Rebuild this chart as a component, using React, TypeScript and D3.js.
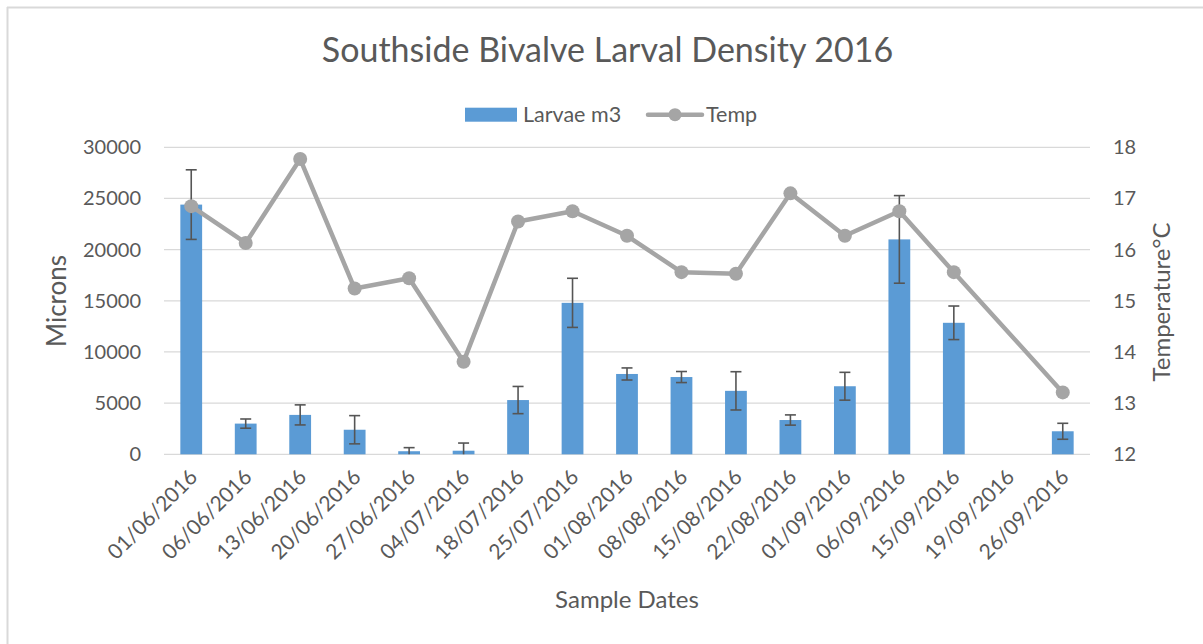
import React from "react";
import * as d3 from "d3";

const dates = [
  "01/06/2016", "06/06/2016", "13/06/2016", "20/06/2016", "27/06/2016", "04/07/2016",
  "18/07/2016", "25/07/2016", "01/08/2016", "08/08/2016", "15/08/2016", "22/08/2016",
  "01/09/2016", "06/09/2016", "15/09/2016", "19/09/2016", "26/09/2016",
];
const larvae: (number | null)[] = [
  24400, 3000, 3850, 2400, 300, 350, 5300, 14800, 7850, 7550, 6200, 3350, 6650, 21000, 12850, null, 2250,
];
const larvaeErr: (number | null)[] = [
  3400, 450, 980, 1380, 350, 750, 1330, 2400, 590, 540, 1870, 500, 1360, 4280, 1640, null, 780,
];
const temp: (number | null)[] = [
  16.85, 16.13, 17.77, 15.24, 15.44, 13.81, 16.55, 16.75, 16.27, 15.56, 15.53, 17.1, 16.27, 16.75, 15.56, null, 13.21,
];
const leftTicks = [0, 5000, 10000, 15000, 20000, 25000, 30000];
const rightTicks = [12, 13, 14, 15, 16, 17, 18];

const W = 1203;
const H = 644;
const FONT = "Lato, 'Open Sans', sans-serif";
const TXT = "#595959";
const GRID = "#d9d9d9";
const BAR = "#5b9bd5";
const LINE = "#a5a5a5";
const ERR = "#555555";

export default function App() {
  const left = 164, right = 1090, top = 147.3, bottom = 454.3;
  const band = d3.scaleBand<string>().domain(dates).range([left, right]);
  const yL = d3.scaleLinear().domain([0, 30000]).range([bottom, top]);
  const yR = d3.scaleLinear().domain([12, 18]).range([bottom, top]);
  const cx = (d: string) => (band(d) as number) + band.bandwidth() / 2;
  const bw = band.bandwidth() / 2.5;

  const pts = dates
    .map((d, i) => ({ d, v: temp[i] }))
    .filter((p) => p.v !== null) as { d: string; v: number }[];
  const lineGen = d3.line<{ d: string; v: number }>().x((p) => cx(p.d)).y((p) => yR(p.v));

  return (
    <svg width={W} height={H} style={{ position: "absolute", left: 0, top: 0, background: "#fff" }} fontFamily={FONT}>
      <rect x={0} y={0} width={W} height={H} fill="#fff" />
      <line x1={7} y1={7.5} x2={W} y2={7.5} stroke={GRID} strokeWidth={2} />
      <line x1={7.5} y1={7} x2={7.5} y2={H} stroke={GRID} strokeWidth={2} />

      <text x={607.5} y={62} textAnchor="middle" fontSize={34} fill={TXT}>
        Southside Bivalve Larval Density 2016
      </text>

      {/* legend */}
      <rect x={465} y={107.7} width={52} height={14} fill={BAR} />
      <text x={523} y={121.5} fontSize={21.5} fill={TXT}>Larvae m3</text>
      <line x1={648} y1={114.7} x2={702} y2={114.7} stroke={LINE} strokeWidth={4.5} strokeLinecap="round" />
      <circle cx={675} cy={114.7} r={6.5} fill={LINE} />
      <text x={706} y={121.5} fontSize={21.5} fill={TXT}>Temp</text>

      {/* gridlines */}
      {leftTicks.map((t) => (
        <line key={"g" + t} x1={left} x2={right} y1={yL(t)} y2={yL(t)} stroke={GRID} strokeWidth={1.3} />
      ))}

      {/* left ticks */}
      {leftTicks.map((t) => (
        <text key={"l" + t} x={141} y={yL(t)} dy="0.35em" textAnchor="end" fontSize={20} fill={TXT}>
          {t}
        </text>
      ))}
      {rightTicks.map((t) => (
        <text key={"r" + t} x={1113} y={yR(t)} dy="0.35em" textAnchor="start" fontSize={20} fill={TXT}>
          {t}
        </text>
      ))}

      {/* bars */}
      {dates.map((d, i) =>
        larvae[i] === null ? null : (
          <rect key={"b" + d} x={cx(d) - bw / 2} y={yL(larvae[i] as number)} width={bw}
            height={bottom - yL(larvae[i] as number)} fill={BAR} />
        )
      )}

      {/* error bars */}
      {dates.map((d, i) => {
        const v = larvae[i];
        const e = larvaeErr[i];
        if (v === null || e === null) return null;
        const y1 = yL(v + e);
        const y2 = yL(Math.max(0, v - e));
        const c = cx(d);
        return (
          <g key={"e" + d} stroke={ERR} strokeWidth={1.6}>
            <line x1={c} x2={c} y1={y1} y2={y2} />
            <line x1={c - 5.5} x2={c + 5.5} y1={y1} y2={y1} />
            {v - e > 0 && <line x1={c - 5.5} x2={c + 5.5} y1={y2} y2={y2} />}
          </g>
        );
      })}

      {/* temp line */}
      <path d={lineGen(pts) || ""} fill="none" stroke={LINE} strokeWidth={4.5} strokeLinejoin="round" />
      {pts.map((p) => (
        <circle key={"c" + p.d} cx={cx(p.d)} cy={yR(p.v)} r={7} fill={LINE} />
      ))}

      {/* x labels */}
      {dates.map((d) => (
        <text key={"x" + d} transform={`translate(${cx(d) - 3},${468}) rotate(-45)`} textAnchor="end"
          fontSize={21} fill={TXT} dy="0.7em">
          {d}
        </text>
      ))}

      <text x={627} y={608} textAnchor="middle" fontSize={24} fill={TXT}>Sample Dates</text>
      <text transform={`translate(66,301) rotate(-90)`} textAnchor="middle" fontSize={26} fill={TXT}>Microns</text>
      <text transform={`translate(1170,302) rotate(-90)`} textAnchor="middle" fontSize={24} fill={TXT}>Temperature°C</text>
    </svg>
  );
}
